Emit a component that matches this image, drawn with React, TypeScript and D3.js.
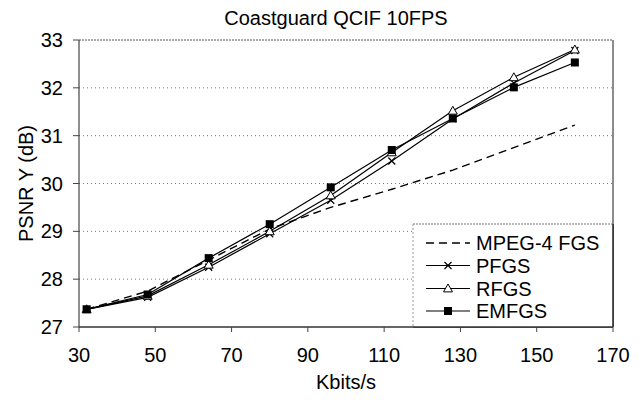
import React from "react";
import * as d3 from "d3";

const rates = [32, 48, 64, 80, 96, 112, 128, 144, 160];
const mpeg4 = [27.37, 27.75, 28.4, 29.05, 29.5, 29.88, 30.28, 30.75, 31.22];
const pfgs = [27.37, 27.62, 28.25, 28.95, 29.65, 30.47, 31.35, 32.1, 32.78];
const rfgs = [27.37, 27.65, 28.3, 29.0, 29.75, 30.65, 31.52, 32.22, 32.8];
const emfgs = [27.37, 27.68, 28.44, 29.15, 29.92, 30.7, 31.36, 32.01, 32.53];
const xTicks = [30, 50, 70, 90, 110, 130, 150, 170];
const yTicks = [27, 28, 29, 30, 31, 32, 33];
const seriesNames = ["MPEG-4 FGS", "PFGS", "RFGS", "EMFGS"];

const W = 642, H = 405;
const L = 79, R = 613, T = 40, B = 327;
const FONT = "'Liberation Sans', Arial, sans-serif";
const FS = 20;

function Marker({ kind, x, y }: { kind: string; x: number; y: number }) {
  if (kind === "x") {
    const s = 3.5;
    return (
      <path d={`M${x - s},${y - s}L${x + s},${y + s}M${x - s},${y + s}L${x + s},${y - s}`} stroke="#000" strokeWidth={1.2} fill="none" />
    );
  }
  if (kind === "tri") {
    const s = 4.5;
    return <path d={`M${x},${y - s}L${x + s},${y + s * 0.75}L${x - s},${y + s * 0.75}Z`} stroke="#000" strokeWidth={1} fill="#fff" />;
  }
  if (kind === "sq") {
    const s = 4;
    return <rect x={x - s} y={y - s} width={2 * s} height={2 * s} fill="#000" />;
  }
  return null;
}

export default function App() {
  const x = d3.scaleLinear().domain([30, 170]).range([L, R]);
  const y = d3.scaleLinear().domain([27, 33]).range([B, T]);
  const line = d3.line<[number, number]>().x((d) => x(d[0])).y((d) => y(d[1]));
  const pts = (vals: number[]) => rates.map((r, i) => [r, vals[i]] as [number, number]);

  const series = [
    { name: seriesNames[0], vals: mpeg4, dash: "8,5", marker: "" },
    { name: seriesNames[1], vals: pfgs, dash: "", marker: "x" },
    { name: seriesNames[2], vals: rfgs, dash: "", marker: "tri" },
    { name: seriesNames[3], vals: emfgs, dash: "", marker: "sq" },
  ];

  const legX = 413, legY = 224;
  const legRowY = [243, 265.5, 288.5, 311];

  return (
    <svg width={W} height={H} style={{ position: "absolute", left: 0, top: 0, background: "#fff" }} fontFamily={FONT}>
      <rect x={0} y={0} width={W} height={H} fill="#fff" />
      <text x={336} y={25} textAnchor="middle" fontSize={FS}>Coastguard QCIF 10FPS</text>

      {yTicks.filter((t) => t > 27 && t < 33).map((t) => (
        <line key={t} x1={L} x2={R} y1={y(t)} y2={y(t)} stroke="#777" strokeWidth={1} strokeDasharray="1,3" />
      ))}

      <line x1={L} x2={R} y1={T} y2={T} stroke="#555" strokeWidth={1} strokeDasharray="2,1" />
      <line x1={R} x2={R} y1={T} y2={B} stroke="#666" strokeWidth={1.5} />
      <line x1={L} x2={L} y1={T} y2={B} stroke="#444" strokeWidth={1.2} />
      <line x1={L} x2={R} y1={B} y2={B} stroke="#333" strokeWidth={1.3} />

      {yTicks.map((t) => (
        <g key={t}>
          <line x1={L - 6} x2={L} y1={y(t)} y2={y(t)} stroke="#444" />
          <text x={63} y={y(t) + 7} textAnchor="end" fontSize={FS}>{t}</text>
        </g>
      ))}
      {xTicks.map((t) => (
        <g key={t}>
          <line x1={x(t)} x2={x(t)} y1={B} y2={B + 5} stroke="#444" />
          <text x={x(t)} y={362} textAnchor="middle" fontSize={FS}>{t}</text>
        </g>
      ))}

      <text x={346} y={389} textAnchor="middle" fontSize={FS}>Kbits/s</text>
      <text transform={`translate(33,${(T + B) / 2}) rotate(-90)`} textAnchor="middle" fontSize={FS}>PSNR Y (dB)</text>

      {series.map((s) => (
        <g key={s.name}>
          <path d={line(pts(s.vals)) || ""} fill="none" stroke="#000" strokeWidth={s.dash ? 1.4 : 1.2} strokeDasharray={s.dash || undefined} />
          {s.marker && pts(s.vals).map((p, i) => <Marker key={i} kind={s.marker} x={x(p[0])} y={y(p[1])} />)}
        </g>
      ))}

      <rect x={legX} y={legY} width={R - legX} height={B - legY} fill="#fff" />
      <line x1={legX} x2={R} y1={legY} y2={legY} stroke="#777" strokeDasharray="2,1" />
      <line x1={legX} x2={legX} y1={legY} y2={B} stroke="#999" strokeDasharray="2,2" />
      <line x1={R} x2={R} y1={legY} y2={B} stroke="#222" strokeWidth={1.5} />
      <line x1={legX} x2={R} y1={B} y2={B} stroke="#333" strokeWidth={1.3} />
      {series.map((s, i) => (
        <g key={s.name}>
          <line x1={426} x2={470} y1={legRowY[i]} y2={legRowY[i]} stroke="#000" strokeWidth={s.dash ? 1.4 : 1.2} strokeDasharray={s.dash || undefined} />
          {s.marker && <Marker kind={s.marker} x={448} y={legRowY[i]} />}
          <text x={476} y={legRowY[i] + 7} fontSize={FS}>{s.name}</text>
        </g>
      ))}
    </svg>
  );
}
